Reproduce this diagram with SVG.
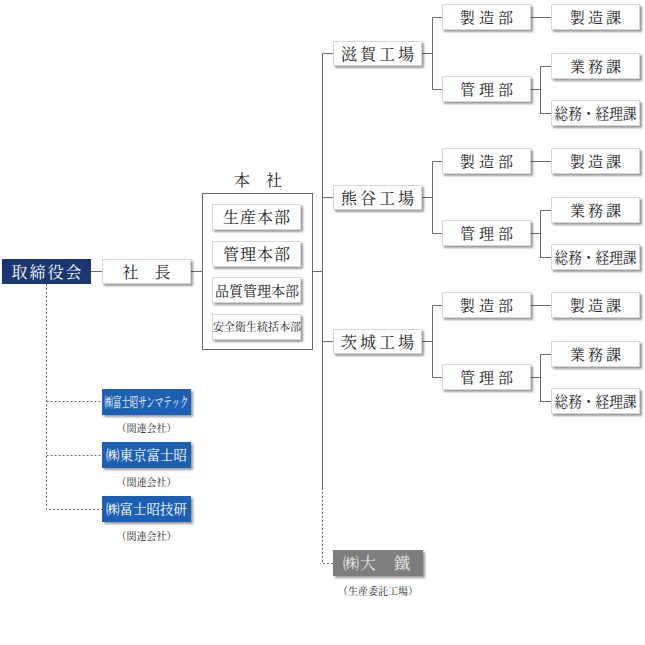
<svg xmlns="http://www.w3.org/2000/svg" width="645" height="645" viewBox="0 0 645 645">
<defs>
<filter id="sh" x="-10%" y="-20%" width="125%" height="160%">
<feDropShadow dx="2" dy="2" stdDeviation="1" flood-color="#000" flood-opacity="0.4"/>
</filter>
<style>
.box{fill:#fff;stroke:#d6d6d6;stroke-width:1;filter:url(#sh)}
.navy{fill:#1c3672}
.blue{fill:#1a60b3;filter:url(#sh)}
.grey{fill:#7e7e7e;filter:url(#sh)}
.t{font-family:"Noto Serif CJK JP","Noto Sans CJK JP",serif;fill:#222;text-anchor:middle}
.w{fill:#fff}
.ln{stroke:#6a6a6a;stroke-width:1;fill:none}
.dash{stroke:#6a6a6a;stroke-width:1;fill:none;stroke-dasharray:2 2}
.f16{font-size:16px}
.f15{font-size:15px}
</style>
</defs>
<rect width="645" height="645" fill="#fff"/>

<g id="connectors">
<line class="ln" x1="91" y1="271.5" x2="102" y2="271.5"/>
<line class="ln" x1="191" y1="271.5" x2="202" y2="271.5"/>
<line class="ln" x1="312.5" y1="271.5" x2="322.5" y2="271.5"/>
<line class="ln" x1="322.5" y1="53.5" x2="322.5" y2="488"/>
<path class="dash" d="M322.5 488 V563.5 H333"/>
<path class="dash" d="M46.5 284 V509.5 H102 M46.5 401.5 H102 M46.5 455.5 H102"/>
<g id="c-shiga">
<path class="ln" d="M322.5 53.5 H333 M422 53.5 H432.5 M432.5 17.5 V89.5 M432.5 17.5 H442 M432.5 89.5 H442 M531 17.5 H551 M531 89.5 H540.5 M540.5 66.5 V113.5 M540.5 66.5 H551 M540.5 113.5 H551"/>
</g>
<g id="c-kumagaya" transform="translate(0,144)">
<path class="ln" d="M322.5 53.5 H333 M422 53.5 H432.5 M432.5 17.5 V89.5 M432.5 17.5 H442 M432.5 89.5 H442 M531 17.5 H551 M531 89.5 H540.5 M540.5 66.5 V113.5 M540.5 66.5 H551 M540.5 113.5 H551"/>
</g>
<g id="c-ibaraki" transform="translate(0,288)">
<path class="ln" d="M322.5 53.5 H333 M422 53.5 H432.5 M432.5 17.5 V89.5 M432.5 17.5 H442 M432.5 89.5 H442 M531 17.5 H551 M531 89.5 H540.5 M540.5 66.5 V113.5 M540.5 66.5 H551 M540.5 113.5 H551"/>
</g>
</g>

<g id="board">
<rect class="navy" x="2" y="259" width="89" height="25"/>
<text class="t w f16" x="47.5" y="277.5" letter-spacing="2">取締役会</text>
</g>
<g id="president">
<rect class="box" x="102.5" y="259.5" width="88" height="24"/>
<text class="t f16" x="146.5" y="277.5">社　長</text>
</g>

<g id="honsha">
<text class="t f16" x="258" y="186">本　社</text>
<rect x="202.5" y="193.5" width="110" height="156" fill="none" stroke="#6a6a6a"/>
<g id="seisan-honbu">
<rect class="box" x="212.5" y="204.5" width="88" height="25"/>
<text class="t f16" x="257" y="223" letter-spacing="1">生産本部</text>
</g>
<g id="kanri-honbu">
<rect class="box" x="212.5" y="241.5" width="88" height="25"/>
<text class="t f16" x="257" y="260" letter-spacing="1">管理本部</text>
</g>
<g id="hinshitsu-honbu">
<rect class="box" x="212.5" y="277.5" width="88" height="25"/>
<text class="t" x="257" y="295.5" font-size="14">品質管理本部</text>
</g>
<g id="anzen-honbu">
<rect class="box" x="212.5" y="314.5" width="88" height="25"/>
<text class="t" x="257" y="331" font-size="11">安全衛生統括本部</text>
</g>
</g>

<g id="shiga">
<g id="shiga-factory"><rect class="box" x="333.5" y="41.5" width="88" height="24"/><text class="t f16" x="379" y="59.5" letter-spacing="3">滋賀工場</text></g>
<g id="shiga-seizobu"><rect class="box" x="442.5" y="4.5" width="88" height="25"/><text class="t f15" x="488.5" y="23" letter-spacing="4">製造部</text></g>
<g id="shiga-kanribu"><rect class="box" x="442.5" y="76.5" width="88" height="25"/><text class="t f15" x="488.5" y="95" letter-spacing="4">管理部</text></g>
<g id="shiga-seizoka"><rect class="box" x="551.5" y="4.5" width="88" height="25"/><text class="t f15" x="597" y="23" letter-spacing="3">製造課</text></g>
<g id="shiga-gyomuka"><rect class="box" x="551.5" y="53.5" width="88" height="25"/><text class="t f15" x="597" y="72" letter-spacing="3">業務課</text></g>
<g id="shiga-somuka"><rect class="box" x="551.5" y="100.5" width="88" height="25"/><text class="t f15" x="595.5" y="119" textLength="82" lengthAdjust="spacingAndGlyphs">総務・経理課</text></g>
</g>

<g id="kumagaya" transform="translate(0,144)">
<g id="kumagaya-factory"><rect class="box" x="333.5" y="41.5" width="88" height="24"/><text class="t f16" x="379" y="59.5" letter-spacing="3">熊谷工場</text></g>
<g id="kumagaya-seizobu"><rect class="box" x="442.5" y="4.5" width="88" height="25"/><text class="t f15" x="488.5" y="23" letter-spacing="4">製造部</text></g>
<g id="kumagaya-kanribu"><rect class="box" x="442.5" y="76.5" width="88" height="25"/><text class="t f15" x="488.5" y="95" letter-spacing="4">管理部</text></g>
<g id="kumagaya-seizoka"><rect class="box" x="551.5" y="4.5" width="88" height="25"/><text class="t f15" x="597" y="23" letter-spacing="3">製造課</text></g>
<g id="kumagaya-gyomuka"><rect class="box" x="551.5" y="53.5" width="88" height="25"/><text class="t f15" x="597" y="72" letter-spacing="3">業務課</text></g>
<g id="kumagaya-somuka"><rect class="box" x="551.5" y="100.5" width="88" height="25"/><text class="t f15" x="595.5" y="119" textLength="82" lengthAdjust="spacingAndGlyphs">総務・経理課</text></g>
</g>

<g id="ibaraki" transform="translate(0,288)">
<g id="ibaraki-factory"><rect class="box" x="333.5" y="41.5" width="88" height="24"/><text class="t f16" x="379" y="59.5" letter-spacing="3">茨城工場</text></g>
<g id="ibaraki-seizobu"><rect class="box" x="442.5" y="4.5" width="88" height="25"/><text class="t f15" x="488.5" y="23" letter-spacing="4">製造部</text></g>
<g id="ibaraki-kanribu"><rect class="box" x="442.5" y="76.5" width="88" height="25"/><text class="t f15" x="488.5" y="95" letter-spacing="4">管理部</text></g>
<g id="ibaraki-seizoka"><rect class="box" x="551.5" y="4.5" width="88" height="25"/><text class="t f15" x="597" y="23" letter-spacing="3">製造課</text></g>
<g id="ibaraki-gyomuka"><rect class="box" x="551.5" y="53.5" width="88" height="25"/><text class="t f15" x="597" y="72" letter-spacing="3">業務課</text></g>
<g id="ibaraki-somuka"><rect class="box" x="551.5" y="100.5" width="88" height="25"/><text class="t f15" x="595.5" y="119" textLength="82" lengthAdjust="spacingAndGlyphs">総務・経理課</text></g>
</g>

<g id="fujisho-sunmatec">
<rect class="blue" x="102" y="389" width="89" height="26"/>
<text class="t w" x="146.5" y="407" font-size="14" textLength="84" lengthAdjust="spacingAndGlyphs">㈱富士昭サンマテック</text>
<text class="t" x="146.5" y="432" font-size="10">（関連会社）</text>
</g>
<g id="tokyo-fujisho">
<rect class="blue" x="102" y="442" width="89" height="26"/>
<text class="t w" x="146.5" y="460" font-size="13.5">㈱東京富士昭</text>
<text class="t" x="146.5" y="486" font-size="10">（関連会社）</text>
</g>
<g id="fujisho-giken">
<rect class="blue" x="102" y="496" width="89" height="26"/>
<text class="t w" x="146.5" y="514" font-size="13.5">㈱富士昭技研</text>
<text class="t" x="146.5" y="540" font-size="10">（関連会社）</text>
</g>

<g id="daitetsu">
<rect class="grey" x="333" y="550" width="90" height="26"/>
<text class="t" x="377" y="569" font-size="16" style="fill:#e8e8e8" letter-spacing="1">㈱大　鐵</text>
<text class="t" x="378" y="595" font-size="10">（生産委託工場）</text>
</g>
</svg>
